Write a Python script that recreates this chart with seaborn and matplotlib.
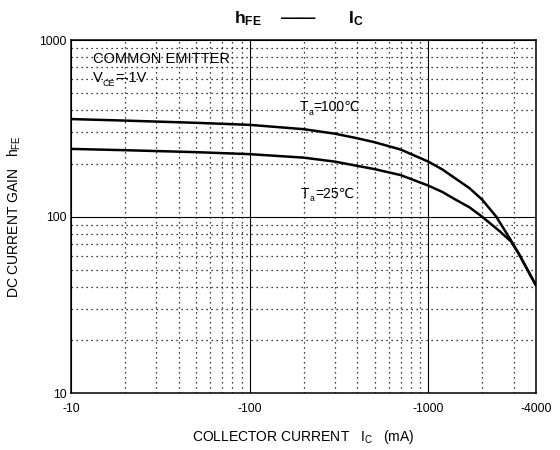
import matplotlib
matplotlib.use("Agg")
import matplotlib.pyplot as plt
import numpy as np
import pandas as pd
import seaborn as sns
from matplotlib.ticker import FixedLocator, NullFormatter

# ---- data ----
ic_100 = [10, 20, 50, 100, 200, 300, 400, 500, 700, 1000, 1200, 1400, 1700, 2000, 2400, 2900, 3200, 3500, 3700, 4000]
hfe_100 = [357, 350, 340, 331, 313, 295, 278, 264, 240, 205, 185, 166, 145, 125, 100, 73.5, 62, 52.5, 47.3, 41]
ic_25 = [10, 20, 50, 100, 200, 300, 400, 500, 700, 1000, 1200, 1400, 1700, 2000, 2500, 2900, 3200, 3500, 3700, 4000]
hfe_25 = [242, 238, 232, 226, 216, 205, 194, 186, 172, 150, 138, 126, 113, 100, 83, 72.5, 62, 52.5, 47.3, 41]

x_ticks = [10, 100, 1000, 4000]
x_tick_labels = ["-10", "-100", "-1000", "-4000"]
y_ticks = [10, 100, 1000]
y_tick_labels = ["10", "100", "1000"]
x_minor = [20, 30, 40, 50, 60, 70, 80, 90, 200, 300, 400, 500, 600, 700, 800, 900, 2000, 3000]
y_minor = [20, 30, 40, 50, 60, 70, 80, 90, 200, 300, 400, 500, 600, 700, 800, 900]

FAM = ["Liberation Sans", "DejaVu Sans"]

sns.set_theme(style="white")
plt.rcParams["font.family"] = FAM
plt.rcParams["mathtext.fontset"] = "custom"
plt.rcParams["mathtext.rm"] = "Liberation Sans"
plt.rcParams["mathtext.it"] = "Liberation Sans"
plt.rcParams["mathtext.bf"] = "Liberation Sans:bold"

fig = plt.figure(figsize=(5.6, 4.5), dpi=100)
ax = fig.add_axes([0.127, 0.1256, 0.830, 0.7855])

df = pd.DataFrame({
    "ic": ic_100 + ic_25,
    "hfe": hfe_100 + hfe_25,
    "T": ["100"] * len(ic_100) + ["25"] * len(ic_25),
})
sns.lineplot(data=df, x="ic", y="hfe", hue="T", palette={"100": "black", "25": "black"},
             estimator=None, sort=False, legend=False, linewidth=1.8, ax=ax, zorder=5)

ax.set_xscale("log")
ax.set_yscale("log")
ax.set_xlim(10, 4000)
ax.set_ylim(10, 1000)

ax.xaxis.set_major_locator(FixedLocator(x_ticks))
ax.set_xticklabels(x_tick_labels)
ax.yaxis.set_major_locator(FixedLocator(y_ticks))
ax.set_yticklabels(y_tick_labels)
ax.xaxis.set_minor_locator(FixedLocator(x_minor))
ax.yaxis.set_minor_locator(FixedLocator(y_minor))
ax.xaxis.set_minor_formatter(NullFormatter())
ax.yaxis.set_minor_formatter(NullFormatter())
ax.tick_params(which="both", length=0, labelsize=8.8, colors="black")
ax.tick_params(axis="x", pad=7)
ax.tick_params(axis="y", pad=3)

ax.grid(which="major", color="black", linewidth=0.8, linestyle="-")
ax.grid(which="minor", color="black", linewidth=0.9, linestyle=(0, (1, 3)))
ax.set_axisbelow(True)
for s in ax.spines.values():
    s.set_color("black")
    s.set_linewidth(1.1)

ax.set_xlabel(r"COLLECTOR CURRENT   $\mathregular{I_C}$   (mA)", fontsize=10, color="black", labelpad=9)
ax.set_ylabel(r"DC CURRENT GAIN   $\mathregular{h_{FE}}$", fontsize=10, color="black", labelpad=12)


def sub_label(x, y, main, sub, rest, size):
    t1 = ax.text(x, y, main, fontsize=size, va="baseline", ha="left", color="black")
    t2 = ax.annotate(sub, xy=(1, y), xycoords=(t1, "data"), xytext=(0.2, -2.6),
                     textcoords="offset points", fontsize=size * 0.62, va="baseline",
                     ha="left", color="black")
    ax.annotate(rest, xy=(1, y), xycoords=(t2, "data"), xytext=(0.2, 0),
                textcoords="offset points", fontsize=size, va="baseline", ha="left",
                color="black", family=FAM)


ax.text(13.2, 740, "COMMON EMITTER", fontsize=10.5, va="baseline", ha="left", color="black")
sub_label(13.2, 575, "V", "CE", "=-1V", 10.5)
sub_label(191, 395, "T", "a", "=100℃", 10)
sub_label(194, 128, "T", "a", "=25℃", 10)

ax.set_title(r"$\mathbf{h_{FE}}$    ——       $\mathbf{I_C}$", fontsize=12.5, fontweight="bold",
             pad=12, color="black", x=0.49)

fig.savefig("out.png", dpi=100)
